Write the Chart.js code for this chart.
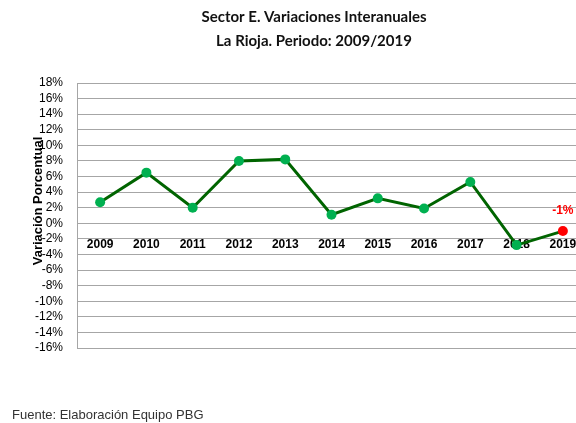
<!DOCTYPE html>
<html><head><meta charset="utf-8">
<script src="https://cdn.jsdelivr.net/npm/chart.js@4.4.0/dist/chart.umd.min.js"></script>
<style>
html,body{margin:0;padding:0;background:#fff;overflow:hidden;width:576px;height:423px;}
#wrap{position:absolute;left:0;top:0;width:628px;height:423px;}
</style></head>
<body>
<div id="wrap"><canvas id="c" width="628" height="423"></canvas></div>
<script>
const years = ['2009','2010','2011','2012','2013','2014','2015','2016','2017','2018','2019'];
const variation = [2.7, 6.5, 2.0, 8.0, 8.2, 1.1, 3.2, 1.9, 5.3, -2.8, -1.0];
const yMin = -16, yMax = 18, yStep = 2;
const titleLines = ['Sector E. Variaciones Interanuales', 'La Rioja. Periodo: 2009/2019'];
const yTitle = 'Variación Porcentual';
const sourceNote = 'Fuente: Elaboración Equipo PBG';
const lastLabel = '-1%';

const pointColors = variation.map((v,i)=> i===variation.length-1 ? '#ff0000' : '#00b050');

const textPlugin = {
  id:'texts',
  afterDraw(chart){
    const ctx = chart.ctx;
    ctx.save();
    ctx.fillStyle = '#111';
    ctx.font = 'bold 15px Lato, "Open Sans", sans-serif';
    ctx.textAlign = 'center';
    ctx.textBaseline = 'middle';
    ctx.fillText(titleLines[0], 314, 17);
    ctx.fillText(titleLines[1], 314, 41);
    // y title
    ctx.save();
    ctx.translate(38, 201);
    ctx.rotate(-Math.PI/2);
    ctx.font = 'bold 13px "Liberation Sans", Arial, sans-serif';
    ctx.fillStyle = '#000';
    ctx.fillText(yTitle, 0, 0);
    ctx.restore();
    // source
    ctx.textAlign = 'left';
    ctx.font = '13px "Liberation Sans", Arial, sans-serif';
    ctx.fillStyle = '#333';
    ctx.fillText(sourceNote, 12, 415);
    // data label on last point
    const meta = chart.getDatasetMeta(0);
    const p = meta.data[variation.length-1];
    ctx.textAlign = 'center';
    ctx.font = 'bold 12px "Liberation Sans", Arial, sans-serif';
    ctx.fillStyle = '#ff0000';
    ctx.fillText(lastLabel, p.x, p.y - 20);
    ctx.restore();
  }
};

new Chart(document.getElementById('c'), {
  type:'line',
  data:{labels:years, datasets:[{
    data:variation,
    borderColor:'#006400',
    borderWidth:3,
    pointRadius:5,
    pointHoverRadius:5,
    pointBackgroundColor:pointColors,
    pointBorderColor:pointColors,
    pointBorderWidth:0,
    tension:0,
    clip:false
  }]},
  options:{
    responsive:false,
    animation:false,
    devicePixelRatio:1,
    layout:{padding:{top:83,bottom:75,right:42,left:0}},
    plugins:{legend:{display:false},title:{display:false},tooltip:{enabled:false}},
    scales:{
      x:{
        offset:true,
        position:{y:0},
        grid:{display:false,drawTicks:false,offset:true},
        border:{display:false},
        ticks:{padding:14,color:'#000',font:{family:'"Liberation Sans", Arial, sans-serif',size:12,weight:'bold'},maxRotation:0,autoSkip:false}
      },
      y:{
        min:yMin,max:yMax,
        afterFit(s){ s.width = 77; },
        grid:{color:'#a6a6a6',lineWidth:1,drawTicks:false},
        border:{color:'#a6a6a6',width:1},
        ticks:{stepSize:yStep,autoSkip:false,padding:14,color:'#000',font:{family:'"Liberation Sans", Arial, sans-serif',size:12},callback:v=>v+'%'}
      }
    }
  },
  plugins:[textPlugin]
});
</script>
</body></html>
